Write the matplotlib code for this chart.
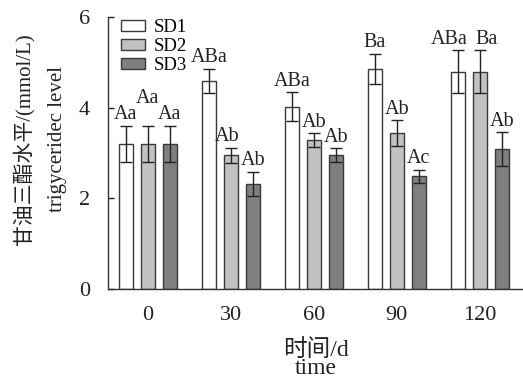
import matplotlib
matplotlib.use("Agg")
import matplotlib.pyplot as plt
import numpy as np

plt.rcParams['font.family'] = ['Liberation Serif', 'Noto Sans CJK SC']
plt.rcParams['mathtext.fontset'] = 'stix'

times = ["0", "30", "60", "90", "120"]
series = ["SD1", "SD2", "SD3"]
sd1 = [3.2, 4.59, 4.02, 4.86, 4.80]
sd2 = [3.2, 2.95, 3.29, 3.44, 4.80]
sd3 = [3.2, 2.32, 2.96, 2.49, 3.09]
sd1_err = [0.40, 0.27, 0.32, 0.33, 0.47]
sd2_err = [0.40, 0.17, 0.15, 0.28, 0.47]
sd3_err = [0.40, 0.27, 0.15, 0.14, 0.37]
sd1_lab = ["Aa", "ABa", "ABa", "Ba", "ABa"]
sd2_lab = ["Aa", "Ab", "Ab", "Ab", "Ba"]
sd3_lab = ["Aa", "Ab", "Ab", "Ac", "Ab"]

colors = ["#ffffff", "#c2c2c2", "#7f7f7f"]
edge = "#3a3a3a"

fig = plt.figure(figsize=(5.23, 3.81), dpi=100)
ax = fig.add_axes([0.2065, 0.2415, 0.7935, 0.7135])

x = np.arange(len(times))
w = 0.17
offs = [-0.265, 0.0, 0.265]
vals = [sd1, sd2, sd3]
errs = [sd1_err, sd2_err, sd3_err]
labs = [sd1_lab, sd2_lab, sd3_lab]
# per-label nudges (points): (series, group) -> (dx, dy)
nudges = {(1, 0): (0, 12), (0, 4): (-6, 0), (1, 4): (5, 0), (1, 1): (-3, 0)}

for i in range(3):
    ax.bar(x + offs[i], vals[i], width=w, color=colors[i], edgecolor=edge,
           linewidth=1.0, label=series[i], zorder=2)
    ax.errorbar(x + offs[i], vals[i], yerr=errs[i], fmt='none', ecolor='#222222',
                elinewidth=1.0, capsize=4, capthick=1.0, zorder=3)
    for j in range(len(times)):
        dx, dy = nudges.get((i, j), (0, 0))
        ax.annotate(labs[i][j], (x[j] + offs[i], vals[i][j] + errs[i][j]),
                    xytext=(dx, 1 + dy), textcoords='offset points',
                    ha='center', va='bottom', fontsize=14.5, color='#222222')

ax.set_xlim(-0.48, 4.52)
ax.set_ylim(0, 6)
ax.set_xticks(x)
ax.set_xticklabels(times, fontsize=16)
ax.set_yticks([0, 2, 4, 6])
ax.set_yticklabels(["0", "2", "4", "6"], fontsize=16)
ax.tick_params(axis='y', direction='in', length=4, width=1, colors='#222222', pad=13)
ax.tick_params(axis='x', length=0, pad=12, colors='#222222')
for s in ['top', 'right']:
    ax.spines[s].set_visible(False)
for s in ['left', 'bottom']:
    ax.spines[s].set_color('#333333')
    ax.spines[s].set_linewidth(1.0)

ax.set_xlabel("时间/d\ntime", fontsize=17, linespacing=0.8, color='#222222')
ax.xaxis.set_label_coords(0.5, -0.185)
ax.xaxis.label.set_va('top')
ax.set_ylabel("甘油三酯水平/(mmol/L)\ntrigyceridec level", fontsize=15,
              linespacing=2.0, color='#222222')
ax.yaxis.set_label_coords(-0.098, 0.55)

leg = ax.legend(loc='upper left', bbox_to_anchor=(0.0, 1.04), frameon=False,
                fontsize=13.5, handlelength=1.25, handleheight=0.55,
                labelspacing=0.1, handletextpad=0.5, borderaxespad=0.3)

fig.savefig("out.png", dpi=100)
